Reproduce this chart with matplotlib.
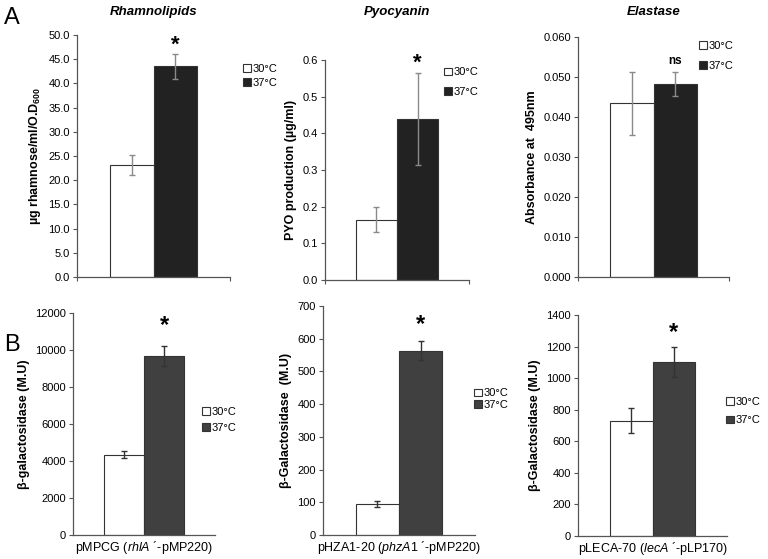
import matplotlib
matplotlib.use("Agg")
import matplotlib.pyplot as plt
from matplotlib.patches import Patch

plt.rcParams['font.family'] = ['Liberation Sans', 'DejaVu Sans']
plt.rcParams['mathtext.fontset'] = 'custom'
plt.rcParams['mathtext.rm'] = 'Liberation Sans'
plt.rcParams['mathtext.it'] = 'Liberation Sans:italic'
plt.rcParams['mathtext.bf'] = 'Liberation Sans:bold'

W, H = 768, 559

series = ["30°C", "37°C"]

# Panel A
a_titles = ["Rhamnolipids", "Pyocyanin", "Elastase"]
a_ylabels = ["µg rhamnose/ml/O.D$_{\\mathbf{600}}$", "PYO production (µg/ml)", "Absorbance at  495nm"]
a_values = [[23.2, 43.5], [0.165, 0.439], [0.0434, 0.0482]]
a_errors = [[2.05, 2.6], [0.035, 0.125], [0.0079, 0.003]]
a_ylims = [50.0, 0.6, 0.060]
a_ticksteps = [5.0, 0.1, 0.010]
a_tickfmt = ["{:.1f}", "{:.1f}", "{:.3f}"]
a_marks = ["*", "*", "ns"]

# Panel B
b_xlabels = ["pMPCG ($\\mathit{rhlA}$ ´-pMP220)",
             "pHZA1-20 ($\\mathit{phzA1}$ ´-pMP220)",
             "pLECA-70 ($\\mathit{lecA}$ ´-pLP170)"]
b_ylabels = ["β-galactosidase (M.U)", "β-Galactosidase  (M.U)", "β-Galactosidase (M.U)"]
b_values = [[4340, 9660], [95, 563], [730, 1102]]
b_errors = [[200, 530], [8, 29], [79, 93]]
b_ylims = [12000, 700, 1400]
b_ticksteps = [2000, 100, 200]
b_marks = ["*", "*", "*"]

fig = plt.figure(figsize=(W / 100, H / 100), dpi=100)


def add_ax(l, r, t, b):
    return fig.add_axes([l / W, 1 - b / H, (r - l) / W, (b - t) / H])


a_boxes = [(77, 230, 35, 277), (325, 469, 60, 280), (578, 729, 37, 277)]
b_boxes = [(73, 215, 313, 535), (323, 475, 306, 535), (578, 727, 315, 536)]
a_leg = [(243, 76), (444, 82), (699, 56)]
b_leg = [(202, 420), (474, 399), (726, 411)]
a_leg_sp = [0.4, 0.85, 0.85]
b_leg_sp = [0.55, 0.12, 0.8]
a_star_off = [6, 7, 5]
b_star_off = [15, 12, 11]

bw = 0.285
xs = [-bw / 2, bw / 2]


def style(ax, ymax, step, fmt, endticks):
    ax.set_xlim(-0.5, 0.5)
    ax.set_ylim(0, ymax)
    n = int(round(ymax / step))
    ticks = [i * step for i in range(n + 1)]
    ax.set_yticks(ticks)
    if fmt:
        ax.set_yticklabels([fmt.format(t) for t in ticks])
    else:
        ax.set_yticklabels([str(int(t)) for t in ticks])
    for s in ["top", "right"]:
        ax.spines[s].set_visible(False)
    for s in ["left", "bottom"]:
        ax.spines[s].set_color("#555555")
        ax.spines[s].set_linewidth(0.9)
    ax.tick_params(axis="y", direction="out", length=3, width=0.8, color="#555555",
                   labelsize=8, pad=2)
    if endticks:
        ax.set_xticks([-0.5, 0.5])
        ax.set_xticklabels(["", ""])
        ax.tick_params(axis="x", direction="out", length=3, width=0.8, color="#555555")
    else:
        ax.set_xticks([])


for i in range(3):
    ax = add_ax(*a_boxes[i])
    cols = ["white", "#222222"]
    for j in range(2):
        ax.bar(xs[j], a_values[i][j], width=bw, color=cols[j], edgecolor="#333333",
               linewidth=0.8, yerr=a_errors[i][j],
               error_kw=dict(ecolor="#8a8a8a", elinewidth=1.0, capsize=2.2, capthick=1.0),
               label=series[j], zorder=2)
    style(ax, a_ylims[i], a_ticksteps[i], a_tickfmt[i], True)
    ax.set_ylabel(a_ylabels[i], fontsize=9, fontweight="bold", labelpad=4)
    top = a_values[i][1] + a_errors[i][1]
    if a_marks[i] == "*":
        ax.annotate("*", (xs[1], top), xytext=(0, a_star_off[i]), textcoords="offset points",
                    ha="center", va="center", fontsize=16, fontweight="bold")
    else:
        ax.annotate("ns", (xs[1], top), xytext=(0, 8), textcoords="offset points",
                    ha="center", va="center", fontsize=8.5, fontweight="bold")
    handles = [Patch(facecolor=cols[j], edgecolor="#333333", linewidth=0.8) for j in range(2)]
    lx, ly = a_leg[i]
    fig.legend(handles, series, loc="center left", bbox_to_anchor=(lx / W, 1 - ly / H),
               frameon=False, fontsize=8, handlelength=0.7, handleheight=0.7,
               handletextpad=0.2, labelspacing=a_leg_sp[i], borderpad=0, borderaxespad=0)
    cx = (a_boxes[i][0] + a_boxes[i][1]) / 2
    fig.text(cx / W, 1 - 12 / H, a_titles[i], ha="center", va="center", fontsize=9.5,
             fontweight="bold", fontstyle="italic")

for i in range(3):
    ax = add_ax(*b_boxes[i])
    cols = ["white", "#404040"]
    for j in range(2):
        ax.bar(xs[j], b_values[i][j], width=bw, color=cols[j], edgecolor="#333333",
               linewidth=0.8, yerr=b_errors[i][j],
               error_kw=dict(ecolor="#333333", elinewidth=1.0, capsize=2.2, capthick=1.0),
               label=series[j], zorder=2)
    style(ax, b_ylims[i], b_ticksteps[i], None, False)
    ax.set_ylabel(b_ylabels[i], fontsize=9, fontweight="bold", labelpad=4)
    ax.set_xlabel(b_xlabels[i], fontsize=9, labelpad=3)
    top = b_values[i][1] + b_errors[i][1]
    ax.annotate("*", (xs[1], top), xytext=(0, b_star_off[i]), textcoords="offset points",
                ha="center", va="center", fontsize=17, fontweight="bold")
    handles = [Patch(facecolor=cols[j], edgecolor="#333333", linewidth=0.8) for j in range(2)]
    lx, ly = b_leg[i]
    fig.legend(handles, series, loc="center left", bbox_to_anchor=(lx / W, 1 - ly / H),
               frameon=False, fontsize=8, handlelength=0.7, handleheight=0.7,
               handletextpad=0.2, labelspacing=b_leg_sp[i], borderpad=0, borderaxespad=0)

fig.text(4 / W, 1 - 18 / H, "A", fontsize=17, ha="left", va="center")
fig.text(4 / W, 1 - 345 / H, "B", fontsize=17, ha="left", va="center")

fig.savefig("out.png", dpi=100)
